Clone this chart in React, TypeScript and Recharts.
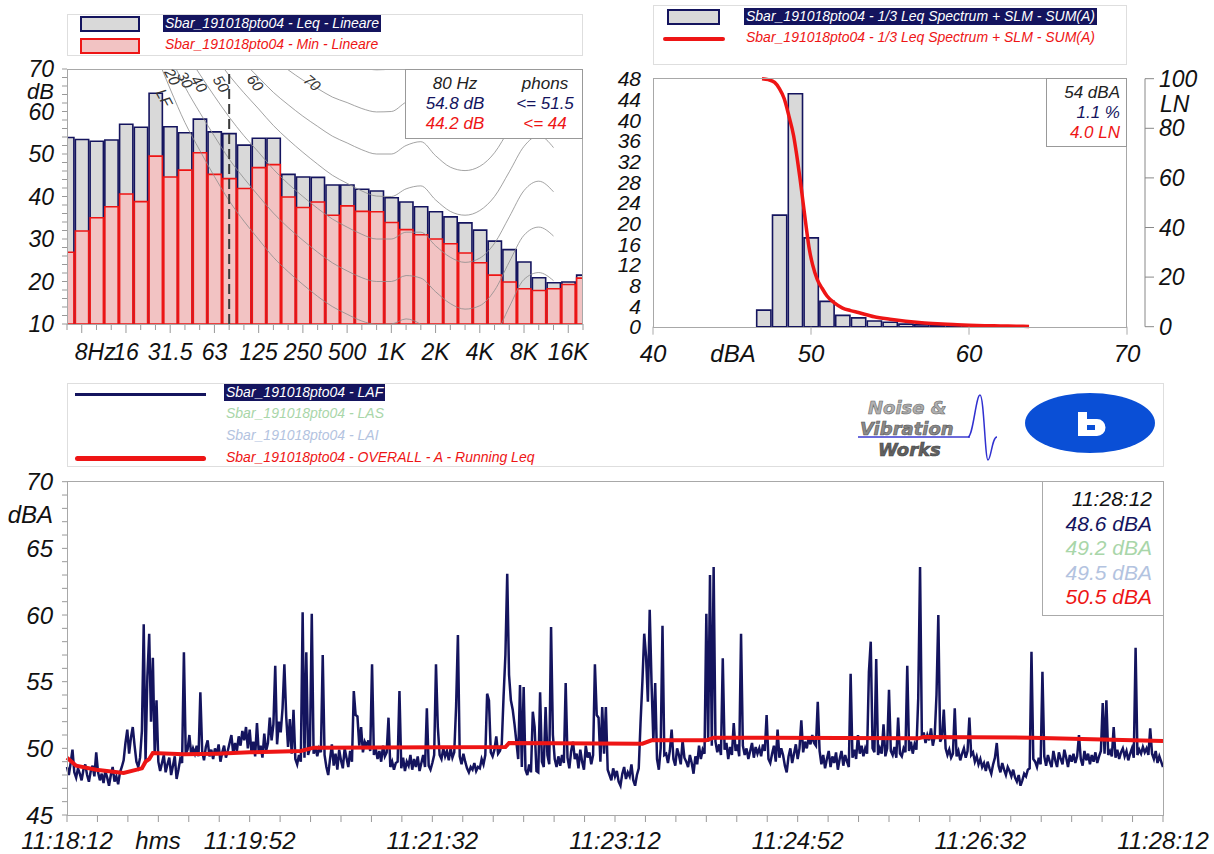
import React from "react";
import {
  ComposedChart,
  LineChart,
  Bar,
  Line,
  XAxis,
  YAxis,
  CartesianGrid,
  ReferenceLine,
} from "recharts";

const NAVY = "#14145e";
const RED = "#ee1515";
const GREEN_TXT = "#a9d6a9";
const BLUE_TXT = "#b3c3e0";
const FONT = "'Liberation Sans', Arial, Helvetica, sans-serif";

// ---------- 1/3 octave spectrum, bands 6.3 Hz .. 20 kHz (index 0..35)
const bandIndex = [
  0, 1, 2, 3, 4, 5, 6, 7, 8, 9, 10, 11, 12, 13, 14, 15, 16, 17, 18, 19, 20, 21,
  22, 23, 24, 25, 26, 27, 28, 29, 30, 31, 32, 33, 34, 35,
];
const leqLineare = [
  53.9, 53.4, 53.0, 53.3, 57.0, 56.3, 64.3, 56.4, 55.0, 58.2, 55.2, 54.8, 52.1,
  53.7, 53.7, 45.2, 44.6, 44.5, 42.7, 42.7, 41.7, 41.3, 39.7, 38.7, 37.6, 36.4,
  35.2, 33.8, 32.1, 29.5, 27.5, 24.6, 20.9, 19.7, 19.9, 21.5,
];
const minLineare = [
  26.9, 31.9, 35.0, 37.6, 40.6, 38.8, 49.5, 44.6, 46.2, 50.3, 45.2, 44.2, 41.9,
  46.8, 47.5, 39.9, 37.4, 38.7, 35.6, 37.8, 36.5, 36.4, 33.9, 32.2, 31.0, 30.0,
  28.9, 26.7, 24.4, 21.5, 19.9, 18.3, 17.9, 18.3, 19.3, 20.8,
];
const octaveTickIdx = [1, 4, 7, 10, 13, 16, 19, 22, 25, 28, 31, 34];
const octaveTickLabels = ["8Hz", "16", "31.5", "63", "125", "250", "500", "1K", "2K", "4K", "8K", "16K"];
const spectrumYTicks = [
  10, 12, 14, 16, 18, 20, 22, 24, 26, 28, 30, 32, 34, 36, 38, 40, 42, 44, 46,
  48, 50, 52, 54, 56, 58, 60, 62, 64, 66, 68, 70,
];
const spectrumGridY = [20, 30, 40, 50, 60];

// equal loudness contours, 20 Hz .. 12.5 kHz (band index 5..33)
const phonIdx = [
  5, 6, 7, 8, 9, 10, 11, 12, 13, 14, 15, 16, 17, 18, 19, 20, 21, 22, 23, 24,
  25, 26, 27, 28, 29, 30, 31, 32, 33,
];
const phon10 = [82.9, 73.8, 65.3, 57.4, 50.9, 44.7, 39.0, 34.2, 29.9, 25.7, 22.3, 19.3, 16.5, 14.1, 12.3, 10.7, 9.9, 10.0, 11.2, 9.9, 6.9, 4.0, 2.4, 3.2, 6.9, 14.0, 20.5, 22.1, 20.2];
const phon20 = [88.5, 80.5, 73.0, 65.8, 59.8, 54.2, 48.8, 44.3, 40.1, 36.1, 32.7, 29.7, 26.9, 24.4, 22.5, 20.9, 20.0, 20.0, 21.4, 20.8, 17.6, 14.8, 13.5, 14.3, 17.9, 24.6, 30.9, 32.8, 30.7];
const phon30 = [94.2, 87.2, 80.6, 74.2, 68.8, 63.6, 58.7, 54.3, 50.4, 46.4, 43.0, 40.0, 37.2, 34.7, 32.8, 31.1, 30.0, 30.0, 31.6, 31.6, 28.4, 25.7, 24.5, 25.5, 29.0, 35.2, 41.4, 43.6, 41.1];
const phon40 = [99.9, 93.9, 88.2, 82.6, 77.8, 73.1, 68.5, 64.4, 60.6, 56.7, 53.4, 50.4, 47.6, 45.0, 43.1, 41.3, 40.1, 40.0, 41.8, 42.5, 39.2, 36.5, 35.6, 36.7, 40.0, 45.8, 51.8, 54.3, 51.5];
const phon50 = [104.9, 98.9, 93.4, 88.2, 83.8, 79.4, 75.2, 71.5, 68.0, 64.5, 61.6, 58.9, 56.5, 54.2, 52.6, 51.0, 50.0, 50.0, 52.0, 52.9, 49.6, 46.9, 46.1, 47.1, 50.3, 55.9, 61.7, 63.5, 60.0];
const phon60 = [110, 104, 99, 94, 89.8, 86.0, 81.9, 78.5, 75.4, 72.3, 69.8, 67.4, 65.4, 63.4, 62.1, 60.7, 59.9, 60.0, 62.2, 63.3, 59.9, 57.3, 56.5, 57.6, 60.6, 66.0, 71.6, 72.7, 68.5];
const phon70 = [115, 109.5, 104.5, 99.8, 95.8, 92.3, 88.6, 85.6, 82.7, 80.1, 78.0, 75.9, 74.3, 72.6, 71.6, 70.4, 69.8, 70.0, 72.4, 73.7, 70.2, 67.7, 67.0, 68.0, 70.9, 76.1, 81.5, 81.9, 77.0];

// ---------- level distribution (SUM(A))
const histBins = [47, 48, 49, 50, 51, 52, 53, 54, 55, 56, 57, 58, 59, 60, 61, 62, 63];
const histPct = [3.2, 21.6, 45.1, 17.2, 4.9, 2.2, 1.7, 1.1, 0.85, 0.5, 0.35, 0.3, 0.25, 0.2, 0.15, 0.1, 0.1];
const histYTicks = [0, 4, 8, 12, 16, 20, 24, 28, 32, 36, 40, 44, 48];
const histXTicks = [40, 50, 60, 70];
const lnTicks = [0, 20, 40, 60, 80, 100];
const lnLevel = [46.9, 47.3, 47.7, 48.0, 48.3, 48.6, 48.9, 49.1, 49.3, 49.5, 49.7, 49.9, 50.1, 50.4, 50.7, 51.0, 51.5, 52.0, 52.5, 53.0, 54.0, 55.0, 56.0, 57.0, 58.0, 59.0, 60.0, 61.0, 62.0, 63.0, 63.8];
const lnValue = [100, 99.6, 98.5, 96, 92, 85, 77, 69, 60, 50, 40, 31, 25, 19, 15.5, 12.5, 9.5, 7.5, 6.5, 5.7, 4.0, 3.0, 2.2, 1.6, 1.2, 0.9, 0.6, 0.4, 0.3, 0.2, 0.1];

// ---------- time history, one value per second from 11:18:12
const lafLevels = [
  48.6, 48.0, 48.9, 49.9, 48.2, 47.8, 48.5, 48.1, 47.6, 48.4,
  48.8, 48.0, 47.5, 48.3, 48.7, 47.9, 49.7, 48.2, 47.6, 48.1,
  47.4, 48.3, 47.8, 47.2, 48.0, 48.6, 47.5, 47.9, 47.3, 48.2,
  48.6, 49.1, 50.4, 51.4, 49.6, 50.8, 51.6, 50.2, 49.0, 48.6,
  49.3, 51.3, 59.3, 49.0, 55.4, 58.6, 52.0, 56.8, 49.6, 53.6,
  49.0, 48.3, 48.9, 49.5, 48.2, 48.8, 49.3, 48.0, 48.7, 49.4,
  47.7, 48.4, 49.2, 48.9, 57.2, 49.6, 49.9, 51.0, 49.5, 50.0,
  49.6, 50.2, 49.4, 54.2, 49.8, 49.1, 50.1, 50.6, 49.4, 49.9,
  49.2, 50.0, 49.5, 50.3, 49.0, 49.7, 50.2, 49.3, 49.8, 50.4,
  51.0, 49.6, 50.4, 49.8, 50.9, 50.2, 51.3, 50.6, 51.6, 50.0,
  // 11:19:52
  51.4, 49.7, 50.5, 49.4, 51.9, 49.6, 50.2, 49.3, 51.1, 49.8,
  50.4, 52.3, 50.6, 51.8, 56.2, 50.3, 52.0, 51.2, 53.0, 56.3,
  52.4, 50.1, 52.2, 49.6, 52.9, 49.2, 48.8, 49.5, 49.0, 60.2,
  49.3, 57.2, 49.5, 50.0, 60.1, 49.6, 50.1, 49.4, 50.0, 49.7,
  57.0, 49.5, 48.6, 48.0, 49.2, 50.3, 48.7, 49.6, 48.4, 49.9,
  49.1, 48.5, 50.0, 49.3, 48.6, 49.8, 49.0, 54.3, 52.5, 52.4,
  50.2, 51.6, 49.7, 50.5, 50.2, 50.6, 49.8, 56.3, 49.5, 50.0,
  49.2, 49.8, 49.0, 50.2, 49.4, 49.7, 52.3, 48.6, 49.0, 48.4,
  48.9, 49.0, 54.3, 48.5, 49.3, 48.3, 49.0, 48.7, 49.5, 48.4,
  49.2, 48.6, 49.4, 48.3, 48.9, 49.5, 48.6, 53.0, 48.7, 48.4,
  // 11:21:32
  48.9, 49.5, 56.3, 51.6, 49.5, 49.2, 50.0, 49.4, 49.8, 49.1,
  50.0, 49.3, 49.7, 53.1, 58.5, 49.4, 48.8, 49.6, 49.0, 48.5,
  48.2, 48.6, 48.4, 48.9, 48.3, 48.6, 48.5, 49.2, 48.8, 49.5,
  54.1, 53.6, 49.7, 49.4, 49.9, 50.9, 49.6, 49.8, 50.3, 53.9,
  57.0, 63.1, 55.5, 53.6, 52.9, 51.8, 50.5, 49.2, 54.75, 48.6,
  54.6, 48.4, 48.0, 48.8, 48.2, 52.75, 51.6, 48.3, 48.2, 54.2,
  49.0, 48.6, 53.1, 49.5, 48.8, 59.1, 51.0, 49.2, 48.6, 49.4,
  48.7, 49.5, 48.9, 54.9, 49.3, 48.5, 49.8, 50.5, 49.2, 49.6,
  48.5, 49.9, 49.0, 48.4, 50.2, 49.3, 49.7, 48.8, 49.5, 56.3,
  52.5, 52.3, 49.0, 53.1, 49.6, 53.1, 48.4, 48.0, 47.6, 48.5,
  // 11:23:12
  47.9, 48.3, 47.5, 47.2, 48.1, 48.6, 47.7, 48.2, 47.9, 48.8,
  47.6, 47.2, 48.0, 48.5, 52.0, 55.0, 58.6, 56.9, 53.5, 60.4,
  54.9, 50.5, 54.9, 49.2, 48.4, 50.0, 59.2, 49.5, 49.6, 48.9,
  49.8, 51.4, 49.2, 48.7, 50.0, 49.5, 48.8, 50.6, 49.3, 49.0,
  48.6, 49.5, 48.9, 48.1, 49.4, 48.8, 50.2, 49.2, 49.9, 49.6,
  60.1, 50.5, 63.0, 50.2, 63.6, 50.5, 49.7, 50.3, 49.5, 56.75,
  49.9, 50.4, 49.2, 50.1, 49.5, 51.9, 49.8, 50.3, 49.4, 58.6,
  50.2, 49.5, 50.0, 49.2, 49.8, 50.4, 49.3, 50.1, 49.6, 50.0,
  49.4, 50.3, 49.8, 52.5, 49.2, 48.9, 49.6, 50.2, 49.0, 51.4,
  49.3, 50.0, 49.5, 48.7, 48.2, 49.4, 50.0, 48.9, 49.6, 50.3,
  // 11:24:52
  49.2, 50.0, 52.1, 49.7, 50.5, 50.0, 50.8, 50.3, 51.0, 50.4,
  50.2, 53.5, 49.8, 48.8, 49.5, 48.5, 49.2, 49.8, 48.6, 49.4,
  48.9, 49.7, 48.4, 49.2, 49.8, 48.7, 49.5, 49.0, 48.6, 55.6,
  49.3, 49.9, 49.2, 51.0, 49.6, 50.2, 49.4, 50.0, 49.6, 55.75,
  58.0, 50.0, 49.7, 56.7, 49.5, 50.0, 49.6, 51.8, 49.4, 50.0,
  54.4, 49.8, 49.5, 50.1, 49.3, 52.3, 49.6, 49.4, 50.0, 49.7,
  56.2, 49.8, 50.5, 49.6, 50.3, 49.9, 53.75, 63.6, 50.8, 51.2,
  50.4, 51.0, 50.6, 51.5, 50.2, 50.9, 54.0, 60.0, 50.5, 50.8,
  52.9, 50.0, 49.5, 49.9, 49.3, 49.6, 53.0, 49.4, 49.8, 49.1,
  49.6, 50.0, 49.3, 49.8, 52.3, 49.5, 49.7, 49.0, 49.4, 48.8,
  // 11:26:32
  49.2, 48.6, 48.9, 48.3, 49.0, 48.5, 48.1, 48.8, 49.3, 50.4,
  48.7, 48.2, 48.9, 48.4, 48.0, 48.6, 48.3, 47.9, 48.4, 47.8,
  47.5, 48.0, 47.2, 47.6, 48.1, 47.9, 48.4, 48.5, 57.25, 49.2,
  49.0, 48.6, 49.3, 48.8, 55.75, 49.4, 48.7, 49.5, 49.0, 48.6,
  49.8, 49.1, 48.6, 49.7, 49.2, 48.8, 49.9, 49.3, 48.6, 49.5,
  49.0, 49.6, 48.9, 49.4, 51.0, 49.2, 48.7, 49.8, 49.1, 49.6,
  48.8, 49.5, 49.0, 49.7, 48.9, 49.4, 49.8, 53.4, 49.6, 53.6,
  49.5, 49.8, 49.4, 51.6, 49.3, 49.9, 49.2, 49.7, 50.0, 49.4,
  49.8, 49.1, 49.6, 50.0, 49.3, 57.55, 49.5, 49.9, 49.6, 50.1,
  49.7, 50.0, 49.5, 51.5, 49.6, 49.2, 49.8, 48.9, 49.4, 49.0,
  48.6,
];
const leqRunSec = [0, 5, 16, 31, 41, 43, 45, 47, 64, 82, 100, 128, 135, 240, 242, 315, 320, 350, 354, 466, 469, 528, 600];
const leqRunLevel = [49.3, 48.7, 48.4, 48.15, 48.5, 49.0, 49.2, 49.65, 49.55, 49.6, 49.7, 49.8, 50.05, 50.1, 50.4, 50.35, 50.6, 50.6, 50.8, 50.75, 50.85, 50.8, 50.55];
const timeLabelSec = [0, 100, 200, 300, 400, 500, 600];
const timeLabels = ["11:18:12", "11:19:52", "11:21:32", "11:23:12", "11:24:52", "11:26:32", "11:28:12"];
const timeTicks = Array.from({ length: 37 }, (_, k) => (k * 100) / 6);
const dbaTicks = [45, 46, 47, 48, 49, 50, 51, 52, 53, 54, 55, 56, 57, 58, 59, 60, 61, 62, 63, 64, 65, 66, 67, 68, 69, 70];
const dbaGridY = [50, 55, 60, 65];

// ---------- derived tables for the charts
const bandData = bandIndex.map((i) => ({ i, leq: leqLineare[i], min: minLineare[i] }));
const contours = [phon10, phon20, phon30, phon40, phon50, phon60, phon70].map((vals) =>
  phonIdx.map((i, k) => ({ i, v: vals[k] }))
);
const histData = histBins.map((x, k) => ({ x, pct: histPct[k] }));
const lnData = lnLevel.map((x, k) => ({ x, ln: lnValue[k] }));
const lafData = lafLevels.map((v, t) => ({ t, v }));
const leqRunData = leqRunSec.map((t, k) => ({ t, v: leqRunLevel[k] }));

const txt = { fontFamily: FONT, fontStyle: "italic" as const, fill: "#111" };

const safe = (fn: () => number[]) => {
  try {
    return fn();
  } catch (e) {
    return [];
  }
};

// ---------- ticks
const SpecXTick = (props: any) => {
  const { x, y, payload } = props;
  const k = octaveTickIdx.indexOf(payload.value);
  return (
    <g>
      <line x1={x} x2={x} y1={y} y2={y + (k >= 0 ? 9 : 6)} stroke="#999" />
      {k >= 0 && (
        <text {...txt} x={k === 0 ? x - 7 : x} y={y + 36} fontSize={23} textAnchor={k === 0 ? "start" : "middle"}>
          {octaveTickLabels[k]}
        </text>
      )}
    </g>
  );
};

const SpecYTick = (props: any) => {
  const { x, y, payload } = props;
  const v = payload.value;
  return (
    <g>
      <line x1={x - 5} x2={x} y1={y} y2={y} stroke="#999" />
      {v % 10 === 0 && (
        <text {...txt} x={x - 13} y={y + 8} fontSize={23} textAnchor="end">
          {v}
        </text>
      )}
      {v === 70 && (
        <text {...txt} x={x - 13} y={y + 30} fontSize={22} textAnchor="end">
          dB
        </text>
      )}
    </g>
  );
};

const HistXTick = (props: any) => {
  const { x, y, payload } = props;
  const v = payload.value;
  return (
    <g>
      <line x1={x} x2={x} y1={y} y2={y + 8} stroke="#aaa" />
      <text {...txt} x={x} y={y + 35} fontSize={24} textAnchor="middle">
        {v}
      </text>
      {v === 40 && (
        <text {...txt} x={x + 80} y={y + 35} fontSize={24} textAnchor="middle">
          dBA
        </text>
      )}
    </g>
  );
};

const HistYTick = (props: any) => {
  const { x, y, payload } = props;
  return (
    <text {...txt} x={x - 12} y={y + 7.5} fontSize={21} textAnchor="end">
      {payload.value}
    </text>
  );
};

const LnTick = (props: any) => {
  const { x, y, payload } = props;
  const v = payload.value;
  return (
    <g>
      {v === 0 && <line x1={x + 18} x2={x + 18} y1={y} y2={y - 248} stroke="#888" />}
      <line x1={x + 18} x2={x + 27} y1={y} y2={y} stroke="#888" />
      <text {...txt} x={x + 32} y={y + 8} fontSize={23} textAnchor="start">
        {v}
      </text>
      {v === 100 && (
        <text {...txt} x={x + 33} y={y + 33} fontSize={23} textAnchor="start">
          LN
        </text>
      )}
    </g>
  );
};

const TimeTick = (props: any) => {
  const { x, y, payload } = props;
  const v = payload.value;
  const k = timeLabelSec.findIndex((s) => Math.abs(s - v) < 0.01);
  return (
    <g>
      <line x1={x} x2={x} y1={y} y2={y + 7} stroke="#999" />
      {k >= 0 && (
        <text {...txt} x={x} y={y + 34} fontSize={24} textAnchor="middle">
          {timeLabels[k]}
        </text>
      )}
      {k === 0 && (
        <text {...txt} x={x + 91} y={y + 34} fontSize={24} textAnchor="middle">
          hms
        </text>
      )}
    </g>
  );
};

const LevelTick = (props: any) => {
  const { x, y, payload } = props;
  const v = payload.value;
  return (
    <g>
      <line x1={x - 5} x2={x} y1={y} y2={y} stroke="#999" />
      {v % 5 === 0 && (
        <text {...txt} x={x - 14} y={y + 8.5} fontSize={24} textAnchor="end">
          {v}
        </text>
      )}
      {v === 70 && (
        <text {...txt} x={x - 14} y={y + 41} fontSize={24} textAnchor="end">
          dBA
        </text>
      )}
    </g>
  );
};

const abs = (left: number, top: number, extra: React.CSSProperties = {}): React.CSSProperties => ({
  position: "absolute",
  left,
  top,
  ...extra,
});
const labelFont: React.CSSProperties = {
  fontFamily: FONT,
  fontStyle: "italic",
  whiteSpace: "nowrap",
};
const frame = (left: number, top: number, width: number, height: number, color = "#a8a8a8") => (
  <div
    style={abs(left, top, {
      width,
      height,
      border: `1px solid ${color}`,
      boxSizing: "border-box",
      pointerEvents: "none",
    })}
  />
);

export default function App() {
  return (
    <div
      style={{
        position: "absolute",
        left: 0,
        top: 0,
        width: 1214,
        height: 854,
        background: "#fff",
        overflow: "hidden",
        fontFamily: FONT,
      }}
    >
      {/* ---------------- spectrum legend */}
      <div style={abs(67, 14, { width: 516, height: 42, border: "1px solid #dedede", boxSizing: "border-box" })} />
      <div style={abs(80, 16, { width: 60, height: 16, background: "#d9d9d9", border: `2px solid ${NAVY}`, boxSizing: "border-box" })} />
      <div style={abs(80, 38, { width: 60, height: 16, background: "#f2c3c3", border: `2px solid ${RED}`, boxSizing: "border-box" })} />
      <span style={abs(163, 15, { ...labelFont, fontSize: 14, lineHeight: "17px", background: NAVY, color: "#fff", padding: "0 2px" })}>
        Sbar_191018pto04 - Leq - Lineare
      </span>
      <span style={abs(165, 36, { ...labelFont, fontSize: 14, lineHeight: "17px", color: RED })}>
        Sbar_191018pto04 - Min - Lineare
      </span>

      {/* ---------------- spectrum chart */}
      <div style={abs(0, 0)}>
        <ComposedChart width={600} height={370} data={bandData} margin={{ top: 69, right: 17, left: 0, bottom: 0 }}>
          <CartesianGrid
            xAxisId="a"
            stroke="#d2d2d2"
            verticalCoordinatesGenerator={({ xAxis }: any) => safe(() => octaveTickIdx.map((i) => xAxis.scale(i)))}
            horizontalCoordinatesGenerator={({ yAxis }: any) => safe(() => spectrumGridY.map((v) => yAxis.scale(v)))}
          />
          <XAxis
            xAxisId="a"
            dataKey="i"
            type="number"
            domain={[0, 35]}
            ticks={bandIndex}
            interval={0}
            allowDataOverflow
            axisLine={false}
            tickLine={false}
            tickSize={0}
            tickMargin={0}
            height={46}
            tick={<SpecXTick />}
          />
          <XAxis xAxisId="b" dataKey="i" type="number" domain={[0, 35]} allowDataOverflow hide />
          <YAxis
            domain={[10, 70]}
            ticks={spectrumYTicks}
            interval={0}
            allowDataOverflow
            axisLine={false}
            tickLine={false}
            tickSize={0}
            tickMargin={0}
            width={67}
            tick={<SpecYTick />}
          />
          <Bar xAxisId="a" dataKey="leq" barSize={14.75} fill="#d9d9d9" stroke={NAVY} strokeWidth={1.6} isAnimationActive={false} />
          <Bar xAxisId="b" dataKey="min" barSize={14.75} fill="#f2c3c3" stroke={RED} strokeWidth={1.6} isAnimationActive={false} />
          {contours.map((d, k) => (
            <Line
              key={k}
              xAxisId="a"
              data={d}
              dataKey="v"
              type="monotone"
              stroke="#8c8c8c"
              strokeWidth={0.8}
              dot={false}
              activeDot={false}
              isAnimationActive={false}
            />
          ))}
          <ReferenceLine xAxisId="a" x={11} stroke="#3a3a3a" strokeWidth={2} strokeDasharray="10 5" />
        </ComposedChart>
      </div>
      {frame(67, 69, 516, 256)}
      <div style={abs(405, 69, { width: 178, height: 70, border: "1px solid #999", boxSizing: "border-box", background: "#fff" })} />
      <div style={abs(410, 74, { ...labelFont, width: 90, textAlign: "center", fontSize: 17, lineHeight: "20px" })}>
        <div style={{ color: "#222" }}>80 Hz</div>
        <div style={{ color: NAVY }}>54.8 dB</div>
        <div style={{ color: RED }}>44.2 dB</div>
      </div>
      <div style={abs(500, 74, { ...labelFont, width: 90, textAlign: "center", fontSize: 17, lineHeight: "20px" })}>
        <div style={{ color: "#222" }}>phons</div>
        <div style={{ color: NAVY }}>&lt;= 51.5</div>
        <div style={{ color: RED }}>&lt;= 44</div>
      </div>

      {/* ---------------- distribution legend */}
      <div style={abs(653, 5, { width: 474, height: 60, border: "1px solid #dedede", boxSizing: "border-box" })} />
      <div style={abs(667, 9, { width: 53, height: 16, background: "#d9d9d9", border: `2px solid ${NAVY}`, boxSizing: "border-box" })} />
      <div style={abs(663, 37, { width: 62, height: 4, background: RED, borderRadius: 2 })} />
      <span style={abs(744, 8, { ...labelFont, fontSize: 14, lineHeight: "17px", background: NAVY, color: "#fff", padding: "0 2px" })}>
        Sbar_191018pto04 - 1/3 Leq Spectrum + SLM - SUM(A)
      </span>
      <span style={abs(746, 29, { ...labelFont, fontSize: 14, lineHeight: "17px", color: RED })}>
        Sbar_191018pto04 - 1/3 Leq Spectrum + SLM - SUM(A)
      </span>

      {/* ---------------- distribution chart */}
      <div style={abs(600, 0)}>
        <ComposedChart width={614} height={370} data={histData} margin={{ top: 78.7, right: 0, left: 0, bottom: 0 }}>
          <CartesianGrid
            yAxisId="pct"
            stroke="#d6d6d6"
            verticalCoordinatesGenerator={({ xAxis }: any) => safe(() => [50, 60].map((v) => xAxis.scale(v)))}
            horizontalCoordinatesGenerator={({ yAxis }: any) => safe(() => histYTicks.slice(1, -1).map((v) => yAxis.scale(v)))}
          />
          <CartesianGrid
            yAxisId="ln"
            stroke="#d6d6d6"
            vertical={false}
            horizontalCoordinatesGenerator={({ yAxis }: any) => safe(() => [20, 40, 60, 80].map((v) => yAxis.scale(v)))}
          />
          <XAxis
            dataKey="x"
            type="number"
            domain={[40, 70]}
            ticks={histXTicks}
            interval={0}
            axisLine={false}
            tickLine={false}
            tickSize={0}
            tickMargin={0}
            height={43.3}
            tick={<HistXTick />}
          />
          <XAxis xAxisId="lx" dataKey="x" type="number" domain={[40, 70]} hide />
          <YAxis
            yAxisId="pct"
            domain={[0, 48]}
            ticks={histYTicks}
            interval={0}
            axisLine={false}
            tickLine={false}
            tickSize={0}
            tickMargin={0}
            width={53}
            tick={<HistYTick />}
          />
          <YAxis
            yAxisId="ln"
            orientation="right"
            domain={[0, 100]}
            ticks={lnTicks}
            interval={0}
            axisLine={false}
            tickLine={false}
            tickSize={0}
            tickMargin={0}
            width={87}
            tick={<LnTick />}
          />
          <Bar yAxisId="pct" dataKey="pct" barSize={15.8} fill="#d9d9d9" stroke={NAVY} strokeWidth={1.6} isAnimationActive={false} />
          <Line
            xAxisId="lx"
            yAxisId="ln"
            data={lnData}
            dataKey="ln"
            type="monotone"
            stroke={RED}
            strokeWidth={3.5}
            dot={false}
            activeDot={false}
            isAnimationActive={false}
          />
        </ComposedChart>
      </div>
      {frame(653, 78, 474, 250)}
      <div style={abs(1046, 78, { width: 81, height: 69, border: "1px solid #999", boxSizing: "border-box", background: "#fff" })} />
      <div style={abs(1040, 83, { ...labelFont, width: 80, textAlign: "right", fontSize: 17, lineHeight: "20px" })}>
        <div style={{ color: "#222" }}>54 dBA</div>
        <div style={{ color: NAVY }}>1.1 %</div>
        <div style={{ color: RED }}>4.0 LN</div>
      </div>

      {/* ---------------- time history legend */}
      <div style={abs(67, 383, { width: 1097, height: 84, border: "1px solid #dedede", boxSizing: "border-box" })} />
      <div style={abs(75, 393, { width: 131, height: 3, background: NAVY })} />
      <div style={abs(75, 456, { width: 131, height: 5, background: RED, borderRadius: 2.5 })} />
      <span style={abs(224, 384, { ...labelFont, fontSize: 14, lineHeight: "17px", background: NAVY, color: "#fff", padding: "0 2px" })}>
        Sbar_191018pto04 - LAF
      </span>
      <span style={abs(226, 405, { ...labelFont, fontSize: 14, lineHeight: "17px", color: GREEN_TXT })}>
        Sbar_191018pto04 - LAS
      </span>
      <span style={abs(226, 427, { ...labelFont, fontSize: 14, lineHeight: "17px", color: BLUE_TXT })}>
        Sbar_191018pto04 - LAI
      </span>
      <span style={abs(226, 449, { ...labelFont, fontSize: 14, lineHeight: "17px", color: RED })}>
        Sbar_191018pto04 - OVERALL - A - Running Leq
      </span>

      {/* ---------------- time history chart */}
      <div style={abs(0, 460)}>
        <LineChart width={1214} height={394} data={lafData} margin={{ top: 21.7, right: 51, left: 0, bottom: 0 }}>
          <CartesianGrid
            stroke="#a4a4a4"
            strokeWidth={1.3}
            verticalCoordinatesGenerator={({ xAxis }: any) => safe(() => timeLabelSec.slice(1, -1).map((v) => xAxis.scale(v)))}
            horizontalCoordinatesGenerator={({ yAxis }: any) => safe(() => dbaGridY.map((v) => yAxis.scale(v)))}
          />
          <XAxis
            dataKey="t"
            type="number"
            domain={[0, 600]}
            ticks={timeTicks}
            interval={0}
            axisLine={false}
            tickLine={false}
            tickSize={0}
            tickMargin={0}
            height={39}
            tick={<TimeTick />}
          />
          <YAxis
            domain={[45, 70]}
            ticks={dbaTicks}
            interval={0}
            axisLine={false}
            tickLine={false}
            tickSize={0}
            tickMargin={0}
            width={67}
            tick={<LevelTick />}
          />
          <Line dataKey="v" type="linear" stroke={NAVY} strokeWidth={2.5} dot={false} activeDot={false} isAnimationActive={false} />
          <Line
            data={leqRunData}
            dataKey="v"
            type="linear"
            stroke={RED}
            strokeWidth={4}
            dot={false}
            activeDot={false}
            isAnimationActive={false}
          />
        </LineChart>
      </div>
      {frame(67, 481, 1097, 335)}
      <div style={abs(1042, 481, { width: 122, height: 135, border: "1px solid #aaa", boxSizing: "border-box", background: "#fff" })} />
      <div style={abs(1030, 487, { ...labelFont, width: 122, textAlign: "right", fontSize: 21, lineHeight: "24.5px" })}>
        <div style={{ color: "#111" }}>11:28:12</div>
        <div style={{ color: NAVY }}>48.6 dBA</div>
        <div style={{ color: GREEN_TXT }}>49.2 dBA</div>
        <div style={{ color: BLUE_TXT }}>49.5 dBA</div>
        <div style={{ color: RED }}>50.5 dBA</div>
      </div>

      {/* ---------------- contour labels and logos */}
      <svg width={1214} height={854} style={abs(0, 0, { pointerEvents: "none" })}>
        <g fontFamily={FONT} fontStyle="italic" fontSize={15} fill="#333">
          <text x={172} y={82} textAnchor="middle" transform="rotate(62 172 77)">20</text>
          <text x={185} y={85} textAnchor="middle" transform="rotate(62 185 80)">30</text>
          <text x={199} y={89} textAnchor="middle" transform="rotate(58 199 84)">40</text>
          <text x={221} y={89} textAnchor="middle" transform="rotate(58 221 84)">50</text>
          <text x={255} y={88} textAnchor="middle" transform="rotate(52 255 83)">60</text>
          <text x={312} y={88} textAnchor="middle" transform="rotate(40 312 83)">70</text>
          <text x={164} y={103} textAnchor="middle" transform="rotate(62 164 98)">LF</text>
        </g>
        <g fontFamily="'DejaVu Sans', sans-serif" fontStyle="italic" fontWeight="bold">
          <text x={868} y={414} fontSize={18} fill="#b0b0b0" stroke="#6a6a6a" strokeWidth={0.6}>Noise &amp;</text>
          <text x={860} y={435} fontSize={18} fill="#8a8a8a" stroke="#555" strokeWidth={0.6}>Vibration</text>
          <text x={878} y={456} fontSize={18} fill="#606060" stroke="#444" strokeWidth={0.6}>Works</text>
        </g>
        <line x1={858} x2={970} y1={437} y2={437} stroke="#3a3ad0" strokeWidth={1.5} />
        <path
          d="M968 437 C973 437 976 395 980 395 C984 395 985 460 988 460 C991 460 992 437 997 437"
          fill="none"
          stroke="#3030d0"
          strokeWidth={1.5}
        />
        <ellipse cx={1090} cy={423} rx={65} ry={30} fill="#0a4fd6" />
        <path d="M1078 412 L1087 412 L1087 419 L1097 419 A8.5 8.5 0 0 1 1097 436 L1078 436 Z" fill="#fff" />
        <rect x={1087} y={425} width={8} height={5} fill="#0a4fd6" />
      </svg>
    </div>
  );
}
